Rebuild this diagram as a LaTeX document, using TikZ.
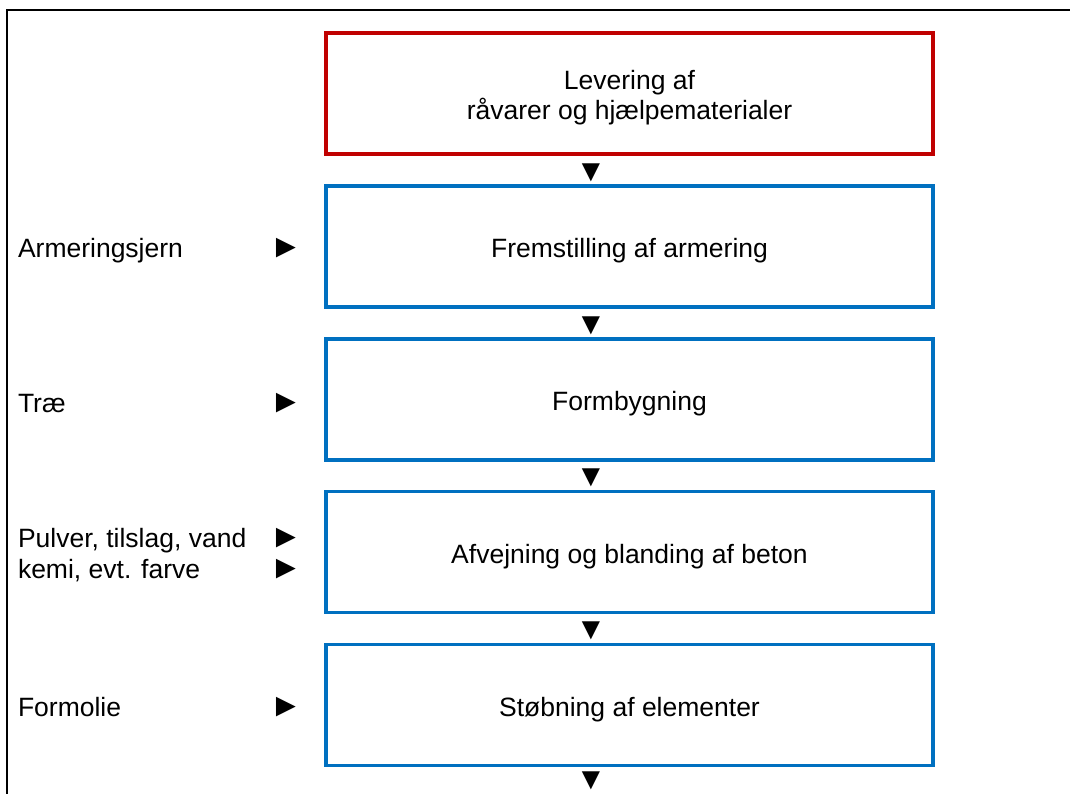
\documentclass[tikz,border=0pt]{standalone}
\usepackage{fontspec}
\setmainfont{Liberation Sans}
\definecolor{boxred}{HTML}{C00000}
\definecolor{boxblue}{HTML}{0070C0}
\begin{document}
\begin{tikzpicture}[x=1pt,y=-1pt,
  every node/.style={font=\fontsize{26.5}{30.5}\selectfont, inner sep=0pt, outer sep=0pt},
  procbox/.style={line width=3.5pt, minimum width=607pt, minimum height=121pt, align=center, text height=22pt, text depth=0pt},
  redbox/.style={procbox, draw=boxred, text height=52pt},
  bluebox/.style={procbox, draw=boxblue},
  downtri/.style={font=\fontsize{31}{31}\selectfont},
  righttri/.style={font=\fontsize{33}{33}\selectfont},
  inlabel/.style={anchor=base west, align=left}]
\useasboundingbox (0,0) rectangle (1070,793);
\draw[line width=2pt] (7,795) -- (7,10) -- (1072,10);

\node[redbox] (r0) at (629.5,93.5) {Levering af\\råvarer og hjælpematerialer};
\node[bluebox] (b1) at (629.5,246.5) {Fremstilling af armering};
\node[bluebox] (b2) at (629.5,399.5) {Formbygning};
\node[bluebox] (b3) at (629.5,552) {Afvejning og blanding af beton};
\node[bluebox] (b4) at (629.5,705) {Støbning af elementer};

\node[downtri] (d1) at (591,172.5) {▼};
\node[downtri] (d2) at (591,325.5) {▼};
\node[downtri] (d3) at (591,478) {▼};
\node[downtri] (d4) at (591,631) {▼};
\node[downtri] (d5) at (591,781) {▼};

\node[inlabel] (l1) at (18,257.5) {Armeringsjern};
\node[inlabel] (l2) at (18,412.5) {Træ};
\node[inlabel] (l3) at (18,547.5) {Pulver, tilslag, vand};
\node[inlabel] (l4) at (18,578.5) {kemi, evt. farve};
\node[inlabel] (l5) at (18,716.5) {Formolie};

\node[righttri] (p1) at (286,248) {►};
\node[righttri] (p2) at (286,403) {►};
\node[righttri] (p3) at (286,538) {►};
\node[righttri] (p4) at (286,569) {►};
\node[righttri] (p5) at (286,707) {►};
\end{tikzpicture}
\end{document}
